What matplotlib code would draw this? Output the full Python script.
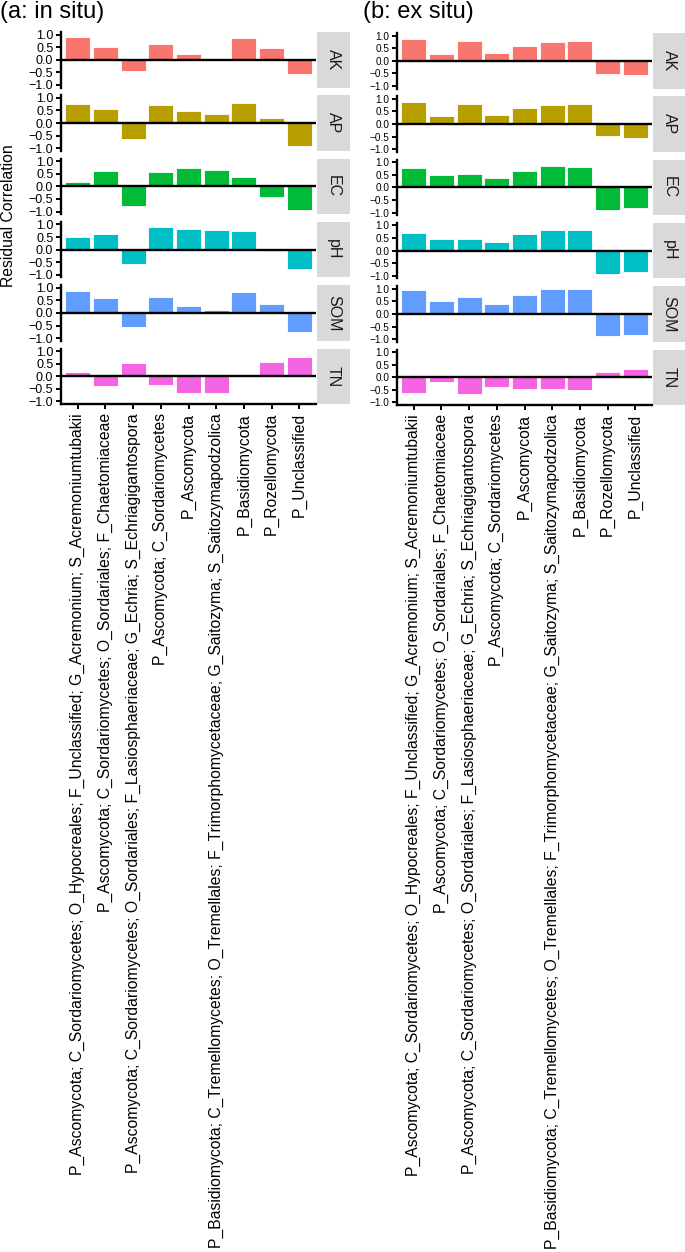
#!/usr/bin/env python3
"""Residual correlation of taxa with soil properties, in situ vs ex situ."""

import matplotlib
matplotlib.use('Agg')
import matplotlib.pyplot as plt

plt.rcParams['font.family'] = ['Liberation Sans', 'DejaVu Sans']

taxa = [
    'P_Ascomycota; C_Sordariomycetes; O_Hypocreales; F_Unclassified; G_Acremonium; S_Acremoniumtubakii',
    'P_Ascomycota; C_Sordariomycetes; O_Sordariales; F_Chaetomiaceae',
    'P_Ascomycota; C_Sordariomycetes; O_Sordariales; F_Lasiosphaeriaceae; G_Echria; S_Echriagigantospora',
    'P_Ascomycota; C_Sordariomycetes',
    'P_Ascomycota',
    'P_Basidiomycota; C_Tremellomycetes; O_Tremellales; F_Trimorphomycetaceae; G_Saitozyma; S_Saitozymapodzolica',
    'P_Basidiomycota',
    'P_Rozellomycota',
    'P_Unclassified',
]
factors = ['AK', 'AP', 'EC', 'pH', 'SOM', 'TN']
colours = ['#F8766D', '#B79F00', '#00BA38', '#00BFC4', '#619CFF', '#F564E3']

# (a) in situ
in_situ_AK = [0.92, 0.52, -0.43, 0.61, 0.21, 0.06, 0.86, 0.48, -0.56]
in_situ_AP = [0.75, 0.55, -0.64, 0.70, 0.48, 0.34, 0.80, 0.19, -0.89]
in_situ_EC = [0.17, 0.60, -0.76, 0.56, 0.73, 0.65, 0.36, -0.41, -0.95]
in_situ_pH = [0.51, 0.64, -0.58, 0.91, 0.83, 0.79, 0.75, -0.06, -0.76]
in_situ_SOM = [0.88, 0.61, -0.54, 0.62, 0.29, 0.13, 0.83, 0.37, -0.75]
in_situ_TN = [0.18, -0.38, 0.54, -0.34, -0.67, -0.66, 0.0, 0.58, 0.78]

# (b) ex situ
ex_situ_AK = [0.86, 0.26, 0.80, 0.32, 0.60, 0.75, 0.79, -0.52, -0.58]
ex_situ_AP = [0.86, 0.30, 0.81, 0.37, 0.63, 0.77, 0.80, -0.48, -0.55]
ex_situ_EC = [0.75, 0.50, 0.52, 0.36, 0.64, 0.83, 0.82, -0.90, -0.80]
ex_situ_pH = [0.68, 0.46, 0.48, 0.33, 0.66, 0.81, 0.80, -0.92, -0.83]
ex_situ_SOM = [0.93, 0.51, 0.69, 0.41, 0.75, 0.97, 0.97, -0.88, -0.82]
ex_situ_TN = [-0.62, -0.20, -0.68, -0.38, -0.47, -0.46, -0.50, 0.20, 0.33]

in_situ = [in_situ_AK, in_situ_AP, in_situ_EC, in_situ_pH, in_situ_SOM, in_situ_TN]
ex_situ = [ex_situ_AK, ex_situ_AP, ex_situ_EC, ex_situ_pH, ex_situ_SOM, ex_situ_TN]

W, H = 685, 1252
fig = plt.figure(figsize=(W / 100, H / 100), dpi=100)


def px_axes(x0, y0, x1, y1):
    return fig.add_axes([x0 / W, 1 - y1 / H, (x1 - x0) / W, (y1 - y0) / H])


def draw_panel(data, x0, x1, strip_x1, top, ytick_size):
    h, gap = 55.5, 7.8
    xs = list(range(1, len(taxa) + 1))
    for i, (fac, vals, col) in enumerate(zip(factors, data, colours)):
        y0 = top + i * (h + gap)
        ax = px_axes(x0, y0, x1, y0 + h)
        ax.bar(xs, vals, width=0.9, color=col, edgecolor='white', linewidth=0.6, zorder=2)
        ax.axhline(0, color='black', lw=1.7, zorder=3)
        ax.set_xlim(0.4, len(taxa) + 0.6)
        ax.set_ylim(-1.1, 1.1)
        ax.set_yticks([-1.0, -0.5, 0.0, 0.5, 1.0])
        ax.set_yticklabels(['\u22121.0', '\u22120.5', '0.0', '0.5', '1.0'])
        ax.tick_params(axis='y', length=3.5, width=1.4, pad=2, labelsize=ytick_size)
        for side in ['top', 'right']:
            ax.spines[side].set_visible(False)
        ax.spines['left'].set_linewidth(1.7)
        if i == len(factors) - 1:
            ax.spines['bottom'].set_linewidth(1.7)
            ax.set_xticks(xs)
            ax.set_xticklabels(taxa, rotation=90, ha='center', va='top', fontsize=11.3)
            ax.tick_params(axis='x', length=3.5, width=1.4, pad=3)
        else:
            ax.spines['bottom'].set_visible(False)
            ax.set_xticks([])

        # facet strip on the right
        sax = px_axes(x1 + 1, y0, strip_x1, y0 + h)
        sax.set_facecolor('#D9D9D9')
        sax.set_xticks([])
        sax.set_yticks([])
        for sp in sax.spines.values():
            sp.set_visible(False)
        sax.text(0.5, 0.5, fac, rotation=-90, ha='center', va='center',
                 fontsize=11.5, color='#1A1A1A', transform=sax.transAxes)


draw_panel(in_situ, 61, 316, 350, 32, 9.0)
draw_panel(ex_situ, 397, 652, 685, 33, 7.2)

fig.text(0, 1 - 1 / H, '(a: in situ)', ha='left', va='top', fontsize=17)
fig.text(363 / W, 1 - 1 / H, '(b: ex situ)', ha='left', va='top', fontsize=17)
fig.text(9 / W, 1 - 216 / H, 'Residual Correlation', rotation=90, ha='center', va='center', fontsize=11.3)

fig.savefig('out.png', dpi=100)
